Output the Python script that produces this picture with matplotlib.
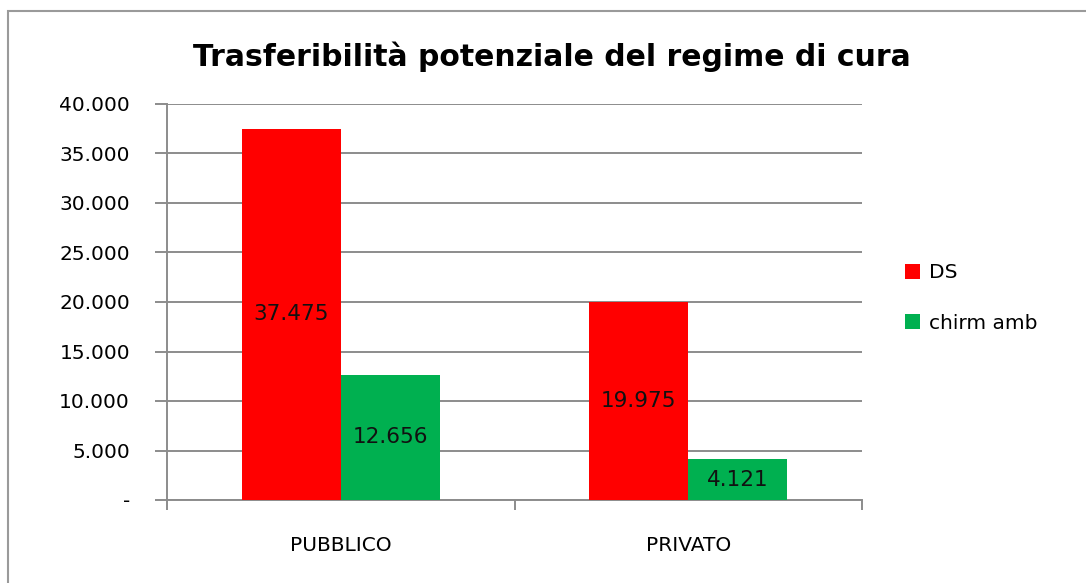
import matplotlib
matplotlib.use('Agg')

import numpy as np
import matplotlib.pyplot as plt
from matplotlib.patches import Rectangle

# Data
categories = ['PUBBLICO', 'PRIVATO']
series_names = ['DS', 'chirm amb']
ds = [37475, 19975]
chirm = [12656, 4121]
colors = ['#ff0000', '#00b050']
yticks = [0, 5000, 10000, 15000, 20000, 25000, 30000, 35000, 40000]


def fmt(v):
    if v == 0:
        return '-'
    return f'{v:,.0f}'.replace(',', '.')


fig = plt.figure(figsize=(10.86, 5.83), dpi=100)
ax = fig.add_axes([167/1086, 1 - 500/583, (862 - 167)/1086, (500 - 104)/583])

x = np.arange(len(categories))
w = 0.2845
b1 = ax.bar(x - w/2, ds, w, color=colors[0], label=series_names[0], zorder=3)
b2 = ax.bar(x + w/2, chirm, w, color=colors[1], label=series_names[1], zorder=3)

for bars, vals in [(b1, ds), (b2, chirm)]:
    ax.bar_label(bars, labels=[fmt(v) for v in vals], label_type='center',
                 fontsize=15.5, color='#111111', zorder=4)

ax.set_xlim(-0.5, 1.5)
ax.set_ylim(0, 40000)
ax.set_yticks(yticks)
ax.set_yticklabels([fmt(v) for v in yticks], fontsize=14.5)
ax.yaxis.grid(True, color='#8c8c8c', linewidth=1.4, zorder=0)

# category separators as ticks, names in between
ax.set_xticks([-0.5, 0.5, 1.5])
ax.set_xticklabels([])
ax.set_xticks(x, minor=True)
ax.set_xticklabels(categories, minor=True, fontsize=14.5)
ax.tick_params(axis='x', which='minor', length=0, pad=26)
ax.tick_params(axis='x', which='major', length=7, width=1.4, color='#8c8c8c', direction='out')
ax.tick_params(axis='y', length=8.6, width=1.4, color='#8c8c8c', pad=18)

for s in ['top', 'right']:
    ax.spines[s].set_visible(False)
for s in ['left', 'bottom']:
    ax.spines[s].set_color('#8c8c8c')
    ax.spines[s].set_linewidth(1.4)

fig.text(552/1086, 1 - 57/583, 'Trasferibilità potenziale del regime di cura',
         ha='center', va='center', fontsize=21.5, fontweight='bold', family='DejaVu Sans')

fig.legend(handles=[b1, b2], labels=series_names, loc='center left',
           bbox_to_anchor=(887/1086, 1 - 298/583), frameon=False, fontsize=14.5,
           handlelength=0.75, handleheight=0.75, handletextpad=0.45, labelspacing=1.55)

# outer chart border
fig.patches.append(Rectangle((8/1086, -0.05), 1.1, (583 - 11)/583 + 0.05,
                             transform=fig.transFigure, fill=False,
                             edgecolor='#9a9a9a', linewidth=1.5))

fig.savefig('out.png', dpi=100)
